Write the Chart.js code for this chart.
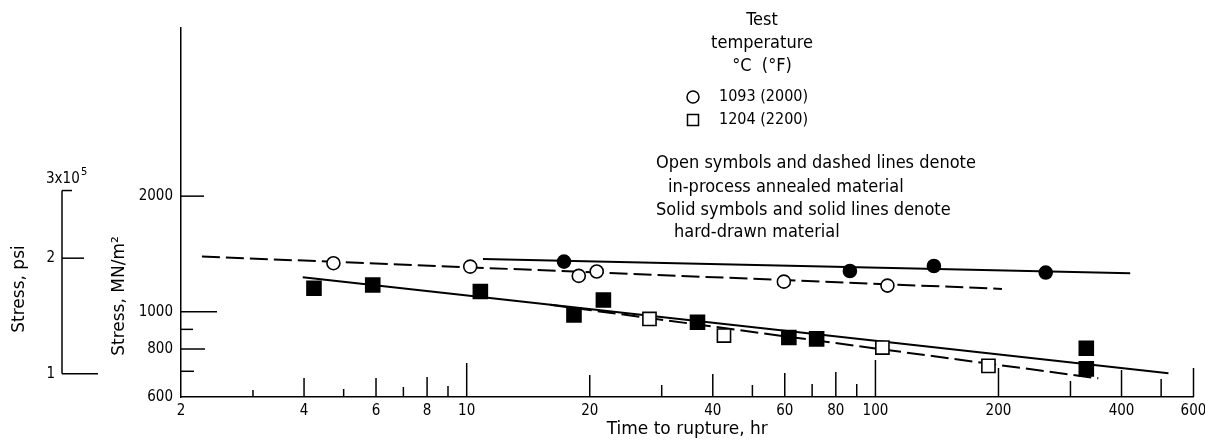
<!DOCTYPE html>
<html>
<head>
<meta charset="utf-8">
<script src="https://cdn.jsdelivr.net/npm/chart.js@4.4.0/dist/chart.umd.min.js"></script>
<style>
    html, body { margin: 0; padding: 0; background: #fff; }
    #wrap { width: 1205px; height: 440px; position: relative; }
</style>
</head>
<body>
<div id="wrap"><canvas id="chart"></canvas></div>
<script>
// Axis ranges and ticks
const xMin = 2, xMax = 600;
const yMin = 600, yMax = 5480;
const xTickLabels = [2, 4, 6, 8, 10, 20, 40, 60, 80, 100, 200, 400, 600];
const xTickMarks = [3, 4, 5, 6, 7, 8, 9, 10, 20, 30, 40, 50, 60, 70, 80, 90, 100, 200, 300, 400, 500, 600];
const yTickLabels = [600, 800, 1000, 2000];
const yTickMarks = [700, 800, 900, 1000, 2000];
const psiTicks = [100000, 200000, 300000];
const psiPerMN = 145.038;

// Data: time to rupture (hr) / stress (MN/m2)
const annealed1093Time = [4.72, 10.2, 18.8, 20.8, 59.7, 107];
const annealed1093Stress = [1338, 1311, 1240, 1273, 1198, 1170];
const hard1093Time = [17.3, 86.6, 139, 261];
const hard1093Stress = [1351, 1277, 1316, 1265];
const annealed1204Time = [28.0, 42.6, 104, 189];
const annealed1204Stress = [958, 867, 807, 723];
const hard1204Time = [4.23, 5.89, 10.8, 18.3, 21.6, 36.7, 61.4, 71.8, 328, 328];
const hard1204Stress = [1151, 1174, 1129, 981, 1073, 939, 857, 850, 804, 710];

// Fitted lines (end points)
const fitAnnealed1093Time = [2.25, 204];
const fitAnnealed1093Stress = [1393, 1147];
const fitHard1093Time = [10.96, 420];
const fitHard1093Stress = [1372, 1260];
const fitHard1204Time = [3.97, 521];
const fitHard1204Stress = [1230, 692];
const fitAnnealed1204Time = [16, 351];
const fitAnnealed1204Stress = [1043, 671];

// Styles
const FONT = '"DejaVu Sans Condensed", "Liberation Sans Narrow", "Open Sans", sans-serif';
const FONT_WIDE = '"DejaVu Sans", "Open Sans", sans-serif';
const xTickLen = {3: 7, 4: 19, 5: 8, 6: 19, 7: 10, 8: 20, 9: 11, 10: 34, 20: 22, 30: 12, 40: 23, 50: 12,
    60: 24, 70: 13, 80: 25, 90: 13, 100: 37, 200: 29, 300: 16, 400: 27, 500: 18, 600: 29};
const yTickLen = {700: 13, 800: 24, 900: 12, 1000: 36, 2000: 23};
const psiTickLen = {100000: 36, 200000: 22, 300000: 10};

function pts(xs, ys) {
    return xs.map((t, i) => ({x: t, y: ys[i]}));
}

function markerSet(xs, ys, style, radius, fill) {
    return {
        data: pts(xs, ys),
        showLine: false,
        pointStyle: style,
        pointRadius: radius,
        pointBackgroundColor: fill,
        pointBorderColor: '#000',
        pointBorderWidth: 1.6
    };
}

function lineSet(xs, ys, dashed) {
    return {
        data: pts(xs, ys),
        showLine: true,
        pointRadius: 0,
        borderColor: '#000',
        borderWidth: 2,
        borderDash: dashed ? [18, 6] : []
    };
}

const overlay = {
    id: 'overlay',
    afterDraw(chart) {
        const {ctx, chartArea} = chart;
        const x = chart.scales.x, y = chart.scales.y;
        ctx.save();
        ctx.strokeStyle = '#000';
        ctx.fillStyle = '#000';
        ctx.lineWidth = 1.5;

        // inward tick marks
        xTickMarks.forEach(v => {
            const px = x.getPixelForValue(v);
            ctx.beginPath();
            ctx.moveTo(px, chartArea.bottom);
            ctx.lineTo(px, chartArea.bottom - xTickLen[v]);
            ctx.stroke();
        });
        yTickMarks.forEach(v => {
            const py = y.getPixelForValue(v);
            ctx.beginPath();
            ctx.moveTo(chartArea.left, py);
            ctx.lineTo(chartArea.left + yTickLen[v], py);
            ctx.stroke();
        });

        // secondary psi axis
        const psiX = 62;
        const psiPx = v => y.getPixelForValue(v / psiPerMN);
        ctx.beginPath();
        ctx.moveTo(psiX, psiPx(psiTicks[0]));
        ctx.lineTo(psiX, psiPx(psiTicks[psiTicks.length - 1]));
        ctx.stroke();
        psiTicks.forEach(v => {
            const py = psiPx(v);
            ctx.beginPath();
            ctx.moveTo(psiX, py);
            ctx.lineTo(psiX + psiTickLen[v], py);
            ctx.stroke();
        });
        ctx.font = '15px ' + FONT;
        ctx.textBaseline = 'middle';
        ctx.textAlign = 'right';
        ctx.fillText('1', psiX - 7, psiPx(psiTicks[0]));
        ctx.fillText('2', psiX - 7, psiPx(psiTicks[1]));
        const topY = psiPx(psiTicks[2]);
        ctx.textAlign = 'left';
        ctx.fillText('3x10', 46, topY - 11);
        ctx.font = '11px ' + FONT;
        ctx.fillText('5', 81, topY - 18);

        // rotated axis titles
        ctx.font = '17px ' + FONT_WIDE;
        ctx.textAlign = 'center';
        const vText = (txt, cx, cy) => {
            ctx.save();
            ctx.translate(cx, cy);
            ctx.rotate(-Math.PI / 2);
            ctx.fillText(txt, 0, 0);
            ctx.restore();
        };
        vText('Stress, psi', 20, 289);
        vText('Stress, MN/m\u00B2', 120, 296);

        // key
        ctx.font = '18px ' + FONT;
        ctx.textAlign = 'center';
        ctx.fillText('Test', 762, 20);
        ctx.fillText('temperature', 762, 43);
        ctx.fillText('\u00B0C  (\u00B0F)', 762, 66);
        ctx.textAlign = 'left';
        ctx.fillText('Open symbols and dashed lines denote', 656, 163);
        ctx.fillText('in-process annealed material', 668, 187);
        ctx.fillText('Solid symbols and solid lines denote', 656, 210);
        ctx.fillText('hard-drawn material', 674, 232);
        ctx.font = '16px ' + FONT;
        ctx.fillText('1093 (2000)', 719, 97);
        ctx.fillText('1204 (2200)', 719, 120);
        ctx.lineWidth = 1.5;
        ctx.beginPath();
        ctx.arc(693, 97, 6, 0, Math.PI * 2);
        ctx.stroke();
        ctx.strokeRect(687.5, 114.5, 11, 11);
        ctx.restore();
    }
};

const ctx = document.getElementById('chart').getContext('2d');
const chart = new Chart(ctx, {
    type: 'scatter',
    data: {
        datasets: [
            markerSet(annealed1093Time, annealed1093Stress, 'circle', 6.5, '#fff'),
            markerSet(hard1093Time, hard1093Stress, 'circle', 6.5, '#000'),
            markerSet(annealed1204Time, annealed1204Stress, 'rect', 9.3, '#fff'),
            markerSet(hard1204Time, hard1204Stress, 'rect', 9.9, '#000'),
            lineSet(fitAnnealed1093Time, fitAnnealed1093Stress, true),
            lineSet(fitHard1093Time, fitHard1093Stress, false),
            lineSet(fitHard1204Time, fitHard1204Stress, false),
            lineSet(fitAnnealed1204Time, fitAnnealed1204Stress, true)
        ]
    },
    options: {
        responsive: true,
        maintainAspectRatio: false,
        animation: false,
        layout: { padding: { left: 106, top: 28, right: 10, bottom: 0 } },
        plugins: {
            legend: { display: false },
            tooltip: { enabled: false }
        },
        scales: {
            x: {
                type: 'logarithmic',
                min: xMin,
                max: xMax,
                afterBuildTicks: s => { s.ticks = xTickLabels.map(v => ({value: v})); },
                afterFit: s => { s.height = 43; s.paddingLeft = 0; s.paddingRight = 0; },
                ticks: {
                    autoSkip: false,
                    maxRotation: 0,
                    padding: 5,
                    color: '#000',
                    font: { family: FONT, size: 15 },
                    callback: v => String(v)
                },
                grid: { drawOnChartArea: false, drawTicks: false },
                border: { display: true, color: '#000', width: 1.5 },
                title: {
                    display: true,
                    text: 'Time to rupture, hr',
                    color: '#000',
                    font: { family: FONT_WIDE, size: 17 },
                    padding: { top: 0, bottom: 0 }
                }
            },
            y: {
                type: 'logarithmic',
                min: yMin,
                max: yMax,
                afterBuildTicks: s => { s.ticks = yTickLabels.map(v => ({value: v})); },
                afterFit: s => { s.width = 75; s.paddingTop = 0; s.paddingBottom = 0; },
                ticks: {
                    autoSkip: false,
                    padding: 8,
                    color: '#000',
                    font: { family: FONT, size: 15 },
                    callback: v => String(v)
                },
                grid: { drawOnChartArea: false, drawTicks: false },
                border: { display: true, color: '#000', width: 1.5 }
            }
        }
    },
    plugins: [overlay]
});
</script>
</body>
</html>
